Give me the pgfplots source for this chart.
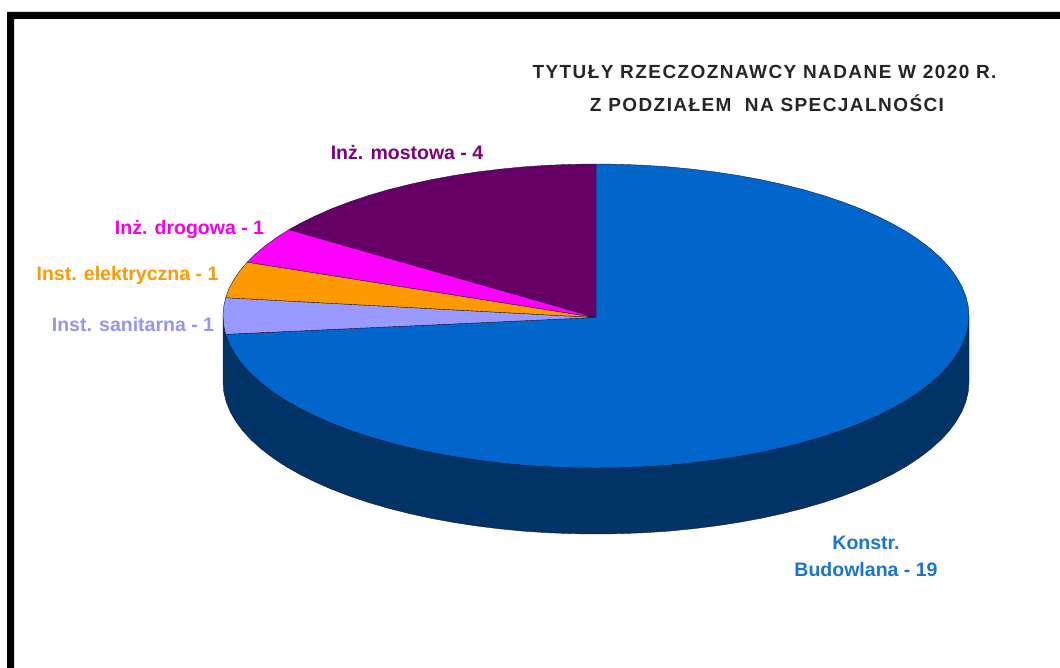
\documentclass[border=0pt]{standalone}
\usepackage{pgfplots}
\pgfplotsset{compat=1.18}
\usepackage{fontspec}
\setmainfont{Liberation Sans}
\newfontfamily\titlefont[LetterSpace=7.5]{Liberation Sans}
\definecolor{cblue}{HTML}{0066CC}
\definecolor{cnavy}{HTML}{003366}
\definecolor{clav}{HTML}{9999FF}
\definecolor{corange}{HTML}{FF9900}
\definecolor{cmag}{HTML}{FF00FF}
\definecolor{cpurple}{HTML}{660066}
\definecolor{edge}{HTML}{1A1A33}
\tikzset{lbl/.style={font=\fontsize{19.5}{22}\selectfont\bfseries, inner sep=0pt},
 ttl/.style={font=\titlefont\fontsize{19}{22}\selectfont\bfseries, inner sep=0pt}}
\begin{document}
\begin{tikzpicture}
\begin{axis}[
  scale only axis, width=1060pt, height=668pt,
  xmin=0, xmax=1060, ymin=0, ymax=668, y dir=reverse,
  axis lines=none, clip=true,
]
% canvas (keeps the page at full size)
\addplot[fill=white, draw=none] coordinates {(0,0)(1060,0)(1060,668)(0,668)} -- cycle;
% frame
\addplot[fill=black, draw=none] coordinates {(7,668)(7,12)(1060,12)(1060,19)(14,19)(14,668)} -- cycle;
% side wall
\addplot[fill=cnavy, draw=edge, line width=0.4pt] coordinates {
(969,316)(969,382)(968.2,391.9)(965.8,401.8)(961.8,411.7)(956.3,421.3)(949.2,430.9)(940.6,440.2)(930.5,449.2)(919,458)(906.1,466.5)(891.9,474.5)(876.4,482.2)(859.8,489.5)(841.9,496.3)(823.1,502.6)(803.2,508.4)(782.5,513.6)(761,518.3)(738.7,522.4)(715.9,525.9)(692.5,528.8)(668.8,531.1)(644.7,532.7)(620.4,533.7)(596,534)
(571.6,533.7)(547.3,532.7)(523.2,531.1)(499.5,528.8)(476.1,525.9)(453.3,522.4)(431,518.3)(409.5,513.6)(388.8,508.4)(368.9,502.6)(350.1,496.3)(332.2,489.5)(315.6,482.2)(300.1,474.5)(285.9,466.5)(273,458)(261.5,449.2)(251.4,440.2)(242.8,430.9)(235.7,421.3)(230.2,411.7)(226.2,401.8)(223.8,391.9)(223,382)(223,316)} -- cycle;
% Konstr. Budowlana - 19
\addplot[fill=cblue, draw=edge, line width=0.4pt] coordinates {
(596,317.5)(596,164)(620.4,164.3)(644.7,165.3)(668.8,166.9)(692.5,169.2)(715.9,172.1)(738.7,175.6)(761,179.7)(782.5,184.4)(803.2,189.6)(823.1,195.4)(841.9,201.7)(859.8,208.5)(876.4,215.8)(891.9,223.5)(906.1,231.5)(919,240)(930.5,248.8)(940.6,257.8)(949.2,267.1)(956.3,276.7)(961.8,286.3)(965.8,296.2)(968.2,306.1)(969,316)
(968.2,325.9)(965.8,335.8)(961.8,345.7)(956.3,355.3)(949.2,364.9)(940.6,374.2)(930.5,383.2)(919,392)(906.1,400.5)(891.9,408.5)(876.4,416.2)(859.8,423.5)(841.9,430.3)(823.1,436.6)(803.2,442.4)(782.5,447.6)(761,452.3)(738.7,456.4)(715.9,459.9)(692.5,462.8)(668.8,465.1)(644.7,466.7)(620.4,467.7)(596,468)
(571.6,467.7)(547.3,466.7)(523.2,465.1)(499.5,462.8)(476.1,459.9)(453.3,456.4)(431,452.3)(409.5,447.6)(388.8,442.4)(368.9,436.6)(350.1,430.3)(332.2,423.5)(315.6,416.2)(300.1,408.5)(285.9,400.5)(273,392)(261.5,383.2)(251.4,374.2)(242.8,364.9)(235.7,355.3)(230.2,345.7)(226.2,335.8)(225.7,334.3)} -- cycle;
% Inst. sanitarna - 1
\addplot[fill=clav, draw=edge, line width=0.4pt] coordinates {(596,317.5)(225.7,334.3)(223.8,325.9)(223,316)(223.8,306.1)(225.7,297.7)} -- cycle;
% Inst. elektryczna - 1
\addplot[fill=corange, draw=edge, line width=0.4pt] coordinates {(596,317.5)(225.7,297.7)(229,288.4)(233.9,279.6)(240,270.7)(247.2,262.1)} -- cycle;
% Inz. drogowa - 1
\addplot[fill=cmag, draw=edge, line width=0.4pt] coordinates {(596,317.5)(247.2,262.1)(255.8,253.7)(265.7,245.4)(276.9,237.3)(289.1,229.6)} -- cycle;
% Inz. mostowa - 4
\addplot[fill=cpurple, draw=edge, line width=0.4pt] coordinates {(596,317.5)(289.1,229.6)(300.1,223.5)(315.6,215.8)(332.2,208.5)(350.1,201.7)(368.9,195.4)(388.8,189.6)(409.5,184.4)(431,179.7)(453.3,175.6)(476.1,172.1)(499.5,169.2)(523.2,166.9)(547.3,165.3)(571.6,164.3)(596,164)} -- cycle;
% labels
\node[ttl, text=black!85] at (axis cs:764.5,72) {TYTUŁY RZECZOZNAWCY NADANE W 2020 R.};
\node[ttl, text=black!85] at (axis cs:767,103) {Z PODZIAŁEM\ \ NA SPECJALNOŚCI};
\node[lbl, text=cpurple!85!magenta] at (axis cs:407,152.5) {Inż. mostowa - 4};
\node[lbl, text=cmag!85!purple] at (axis cs:189.5,230) {Inż. drogowa - 1};
\node[lbl, text=corange] at (axis cs:127.5,275) {Inst. elektryczna - 1};
\node[lbl, text=clav!85!gray] at (axis cs:133,325) {Inst. sanitarna - 1};
\node[lbl, text=cblue!90!white] at (axis cs:866,543) {Konstr.};
\node[lbl, text=cblue!90!white] at (axis cs:866,570) {Budowlana - 19};
\end{axis}
\end{tikzpicture}
\end{document}
